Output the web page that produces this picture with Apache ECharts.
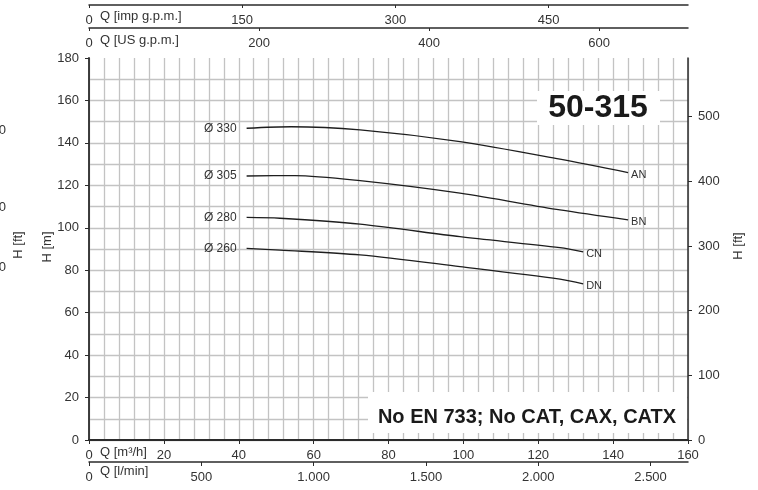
<!DOCTYPE html>
<html>
<head>
<meta charset="utf-8">
<script src="https://cdn.jsdelivr.net/npm/echarts@6/dist/echarts.min.js"></script>
<style>
html,body{margin:0;padding:0;background:#fff;}
#c{width:758px;height:490px;}
</style>
</head>
<body>
<div id="c"></div>
<script>
// ---- data (Q in m³/h, H in m) ----
const curveNames = ['AN', 'BN', 'CN', 'DN'];
const diameters = ['Ø 330', 'Ø 305', 'Ø 280', 'Ø 260'];
const flowAN = [42.1, 54, 72.4, 99.1, 125.8, 144];
const headAN = [146.9, 147.6, 146.1, 140.6, 132.3, 126.0];
const flowBN = [42.1, 55, 72.4, 99.1, 125.8, 144];
const headBN = [124.4, 124.6, 122.2, 116.3, 108.4, 103.7];
const flowCN = [42.1, 51, 72.4, 99.1, 125.8, 132];
const headCN = [104.9, 104.5, 101.7, 95.8, 90.6, 88.6];
const flowDN = [42.1, 51, 72.4, 99.1, 125.8, 132];
const headDN = [90.3, 89.5, 87.2, 81.7, 75.8, 73.6];

const qMax = 160, hMax = 180;
const impPerM3h = 3.66615, usPerM3h = 4.40287, lminPerM3h = 16.6667, ftPerM = 3.28084;
const impTicks = [0, 150, 300, 450];
const usTicks = [0, 200, 400, 600];
const lminTicks = [0, 500, 1000, 1500, 2000, 2500];
const ftTicks = [0, 100, 200, 300, 400, 500];
const leftClipped = ['0', '0', '0'];

const FONT = '"Liberation Sans", Arial, sans-serif';
const TXT = '#333';
const AXIS = '#2b2b2b';
const GRIDC = '#c3c3c3';

const flows = [flowAN, flowBN, flowCN, flowDN];
const heads = [headAN, headBN, headCN, headDN];

function fmtThousands(v) {
  return String(v).replace(/\B(?=(\d{3})+(?!\d))/g, '.');
}

const series = curveNames.map((name, i) => ({
  type: 'line', name: name, xAxisIndex: 0, yAxisIndex: 0,
  smooth: 0.3,
  showSymbol: true, symbol: 'circle', symbolSize: 0,
  lineStyle: {color: '#1e1e1e', width: 1.3},
  itemStyle: {color: '#1e1e1e'},
  data: flows[i].map((q, j) => {
    const item = {value: [q, heads[i][j]]};
    if (j === 0) item.label = {show: true, position: 'left', distance: 10, formatter: diameters[i],
      color: TXT, fontFamily: FONT, fontSize: 12};
    return item;
  }),
  endLabel: {show: true, formatter: name, color: TXT, fontFamily: FONT, fontSize: 11, distance: 3, offset: [0, 2]},
  emphasis: {disabled: true},
  silent: true, animation: false
}));

const axisLabelBase = {color: TXT, fontFamily: FONT, fontSize: 13};
const axisLineBase = {show: true, lineStyle: {color: AXIS, width: 1.5}};

const option = {
  animation: false,
  grid: {left: 89, right: 70, top: 58, bottom: 50, containLabel: false},
  xAxis: [
    { // m³/h bottom
      type: 'value', position: 'bottom', min: 0, max: qMax, interval: 20,
      axisLine: {show: true, onZero: false, lineStyle: {color: AXIS, width: 1.8}},
      axisTick: {show: true, length: 4, lineStyle: {color: AXIS}},
      axisLabel: Object.assign({margin: 9}, axisLabelBase),
      splitLine: {show: true, lineStyle: {color: GRIDC, width: 1.3}},
      minorTick: {show: false, splitNumber: 5},
      minorSplitLine: {show: true, lineStyle: {color: GRIDC, width: 1.3}}
    },
    { // l/min bottom
      type: 'value', position: 'bottom', offset: 22, min: 0, max: qMax * lminPerM3h,
      axisLine: Object.assign({onZero: false}, axisLineBase),
      axisTick: {show: true, length: 4, customValues: lminTicks, lineStyle: {color: AXIS}},
      axisLabel: Object.assign({margin: 9, customValues: lminTicks, formatter: fmtThousands}, axisLabelBase),
      splitLine: {show: false}
    },
    { // US gpm top
      type: 'value', position: 'top', offset: 30, min: 0, max: qMax * usPerM3h,
      axisLine: Object.assign({onZero: false}, axisLineBase),
      axisTick: {show: true, inside: true, length: 3, customValues: usTicks, lineStyle: {color: AXIS}},
      axisLabel: Object.assign({inside: true, margin: 9, customValues: usTicks}, axisLabelBase),
      splitLine: {show: false}
    },
    { // imp gpm top
      type: 'value', position: 'top', offset: 53, min: 0, max: qMax * impPerM3h,
      axisLine: Object.assign({onZero: false}, axisLineBase),
      axisTick: {show: true, inside: true, length: 3, customValues: impTicks, lineStyle: {color: AXIS}},
      axisLabel: Object.assign({inside: true, margin: 9, customValues: impTicks}, axisLabelBase),
      splitLine: {show: false}
    }
  ],
  yAxis: [
    {
      type: 'value', position: 'left', min: 0, max: hMax, interval: 20,
      axisLine: {show: true, onZero: false, lineStyle: {color: AXIS, width: 1.8}},
      axisTick: {show: true, length: 4, lineStyle: {color: AXIS}},
      axisLabel: Object.assign({margin: 10}, axisLabelBase),
      splitLine: {show: true, showMaxLine: false, lineStyle: {color: GRIDC, width: 1.3}},
      minorTick: {show: false, splitNumber: 2},
      minorSplitLine: {show: true, lineStyle: {color: GRIDC, width: 1.3}}
    },
    {
      type: 'value', position: 'right', min: 0, max: hMax * ftPerM,
      axisLine: Object.assign({onZero: false}, axisLineBase),
      axisTick: {show: true, length: 4, customValues: ftTicks, lineStyle: {color: AXIS}},
      axisLabel: Object.assign({margin: 10, customValues: ftTicks}, axisLabelBase),
      splitLine: {show: false}
    }
  ],
  series: series,
  graphic: [
    {type: 'text', left: 100, top: 10, style: {text: 'Q [imp g.p.m.]', font: '13px ' + FONT, fill: TXT}},
    {type: 'text', left: 100, top: 34, style: {text: 'Q [US g.p.m.]', font: '13px ' + FONT, fill: TXT}},
    {type: 'text', left: 100, top: 446, style: {text: 'Q [m³/h]', font: '13px ' + FONT, fill: TXT}},
    {type: 'text', left: 100, top: 465, style: {text: 'Q [l/min]', font: '13px ' + FONT, fill: TXT}},
    {type: 'text', x: 47, y: 247, rotation: Math.PI / 2, style: {text: 'H [m]', font: '13px ' + FONT, fill: TXT, align: 'center', verticalAlign: 'middle'}},
    {type: 'text', x: 18, y: 245, rotation: Math.PI / 2, style: {text: 'H [ft]', font: '13px ' + FONT, fill: TXT, align: 'center', verticalAlign: 'middle'}},
    {type: 'text', x: 738, y: 246, rotation: Math.PI / 2, style: {text: 'H [ft]', font: '13px ' + FONT, fill: TXT, align: 'center', verticalAlign: 'middle'}},
    {type: 'text', x: 6, y: 130, style: {text: leftClipped[0], font: '13px ' + FONT, fill: TXT, align: 'right', verticalAlign: 'middle'}},
    {type: 'text', x: 6, y: 207, style: {text: leftClipped[1], font: '13px ' + FONT, fill: TXT, align: 'right', verticalAlign: 'middle'}},
    {type: 'text', x: 6, y: 267, style: {text: leftClipped[2], font: '13px ' + FONT, fill: TXT, align: 'right', verticalAlign: 'middle'}},
    {type: 'rect', z: 100, shape: {x: 537, y: 91, width: 123, height: 34}, style: {fill: '#fff'}},
    {type: 'text', z: 101, x: 598, y: 108, style: {text: '50-315', font: 'bold 32px ' + FONT, fill: '#1a1a1a', align: 'center', verticalAlign: 'middle'}},
    {type: 'rect', z: 100, shape: {x: 368, y: 392, width: 319, height: 41}, style: {fill: '#fff'}},
    {type: 'text', z: 101, x: 527, y: 417, style: {text: 'No EN 733; No CAT, CAX, CATX', font: 'bold 20px ' + FONT, fill: '#1a1a1a', align: 'center', verticalAlign: 'middle'}}
  ]
};

const chart = echarts.init(document.getElementById('c'), null, {renderer: 'canvas'});
chart.setOption(option);
</script>
</body>
</html>
